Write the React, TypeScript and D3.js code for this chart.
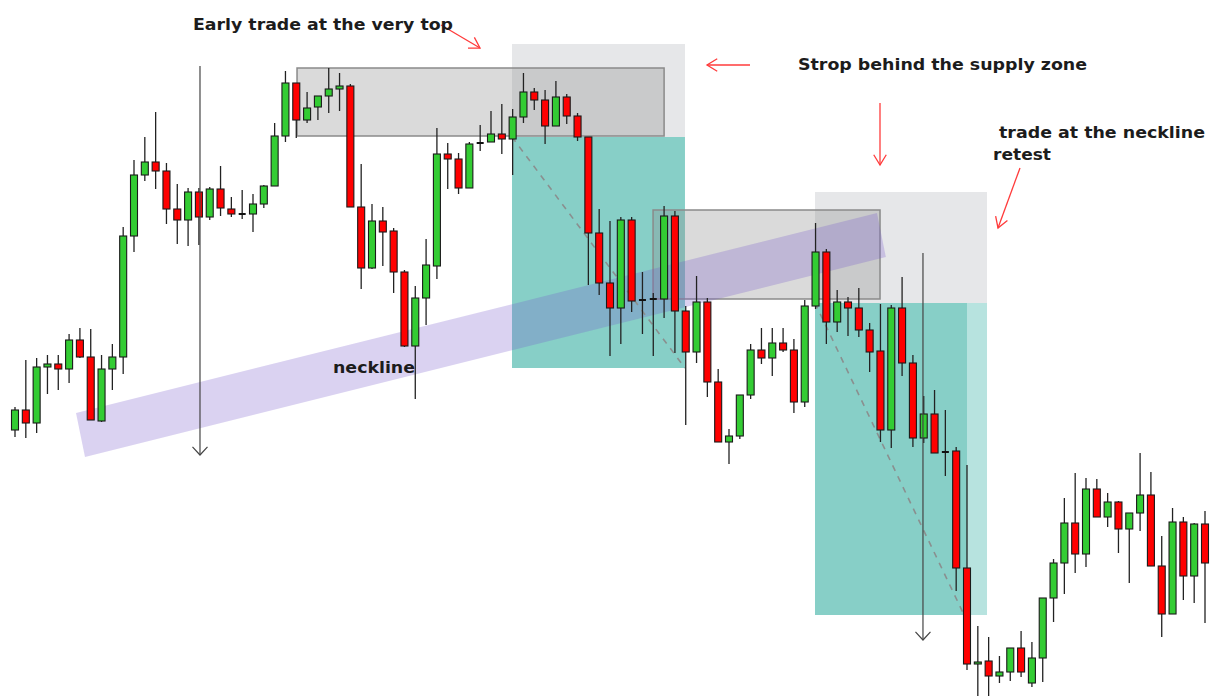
import React from "react";
import * as d3 from "d3";

// Candle values (price points), one per bar
const opens = [270,290,277,333,336,331,360,343,279,331,343,464,525,538,529,491,480,508,483,511,491,486,486,496,514,564,617,580,593,604,611,614,493,432,479,469,428,354,402,434,546,541,512,557,558,566,561,583,608,600,574,603,584,563,467,417,392,480,400,401,401,484,389,348,398,318,258,264,305,350,342,357,350,298,394,448,378,398,392,370,349,270,392,337,262,286,248,249,132,36,39,24,28,52,17,42,102,137,177,146,211,183,198,171,187,205,134,86,178,124,176];
const highs = [293,340,342,345,345,366,372,371,345,356,473,540,563,588,537,516,512,512,513,534,503,510,506,515,577,629,617,608,604,632,627,616,536,496,493,472,430,414,461,572,557,547,558,575,589,596,591,627,612,610,619,606,587,563,491,479,483,483,428,407,494,489,394,424,402,331,271,305,356,372,372,372,361,400,477,451,410,403,412,377,396,395,423,345,304,310,290,253,235,74,63,44,52,69,58,102,141,202,227,222,221,207,199,187,247,228,164,192,183,177,189];
const lows = [263,262,267,306,310,317,342,280,278,310,326,448,519,511,476,456,454,455,480,484,483,481,468,492,514,558,562,577,580,587,589,493,411,431,434,407,353,301,375,421,511,506,512,549,558,546,525,577,590,556,574,576,559,415,405,344,356,388,366,344,382,347,275,337,303,258,236,261,301,336,324,348,287,293,391,356,368,364,363,328,258,252,324,253,257,247,224,109,30,3,3,17,19,23,13,18,78,106,127,133,183,173,147,117,169,134,63,86,100,97,77];
const closes = [290,277,333,336,331,360,343,280,331,343,464,525,538,529,491,480,508,483,511,492,486,486,496,514,564,617,580,592,604,611,614,493,432,479,468,428,354,402,435,546,541,512,556,557,566,561,583,608,600,574,603,584,563,467,417,392,480,399,400,401,484,389,348,398,318,258,264,305,350,342,357,350,298,394,448,378,398,392,370,348,270,392,337,262,286,247,248,132,36,38,24,28,52,28,42,102,137,177,146,211,183,198,171,187,205,134,86,178,124,176,137];

// Annotation geometry in data units (bar index, price)
const supplyTop = { x0: 26.07, x1: 60.0, y0: 632, y1: 564 };
const riskZone1 = { x0: 45.94, x1: 61.93, y0: 656, y1: 563 };
const rewardZone1 = { x0: 45.94, x1: 61.93, y0: 563, y1: 332 };
const supplyRetest = { x0: 58.98, x1: 79.96, y0: 490, y1: 401 };
const riskZone2 = { x0: 73.95, x1: 89.85, y0: 508, y1: 397 };
const rewardZone2 = { x0: 73.95, x1: 88.0, y0: 397, y1: 85 };
const rewardZone2b = { x0: 88.0, x1: 89.85, y0: 397, y1: 85 };
const necklineBand = [[5.64, 287], [79.68, 487], [80.5, 443], [6.47, 243]];
const path1 = [[45.94, 563], [61.93, 332]];
const path2 = [[73.95, 397], [87.6, 88]];
const drop1 = [[17.1, 634], [17.1, 245]];
const drop2 = [[83.93, 447], [83.93, 60]];

const W = 1211, H = 696;

function chevron(x1: number, y1: number, x2: number, y2: number, len = 11, ang = 0.6) {
  const a = Math.atan2(y2 - y1, x2 - x1);
  const p1 = [x2 - len * Math.cos(a - ang), y2 - len * Math.sin(a - ang)];
  const p2 = [x2 - len * Math.cos(a + ang), y2 - len * Math.sin(a + ang)];
  return `M${p1[0]},${p1[1]}L${x2},${y2}L${p2[0]},${p2[1]}`;
}

export default function App() {
  const x = d3.scaleLinear().domain([0, 110]).range([15, 1205]);
  const y = d3.scaleLinear().domain([0, 700]).range([700, 0]);
  const bw = 7;

  const rect = (z: { x0: number; x1: number; y0: number; y1: number }, props: any) => (
    <rect x={x(z.x0)} y={y(z.y0)} width={x(z.x1) - x(z.x0)} height={y(z.y1) - y(z.y0)} {...props} />
  );

  const line = d3.line<number[]>().x(d => x(d[0])).y(d => y(d[1]));
  const poly = line(necklineBand) + "Z";

  const arrowRed = (x1: number, y1: number, x2: number, y2: number) => (
    <g stroke="#ff3b3b" strokeWidth={1.3} fill="none">
      <line x1={x1} y1={y1} x2={x2} y2={y2} />
      <path d={chevron(x1, y1, x2, y2, 12, 0.55)} />
    </g>
  );

  const grayArrow = (p: number[][]) => {
    const [a, b] = p;
    return (
      <g stroke="#444" strokeWidth={1.2} fill="none">
        <line x1={x(a[0])} y1={y(a[1])} x2={x(b[0])} y2={y(b[1])} />
        <path d={chevron(x(a[0]), y(a[1]), x(b[0]), y(b[1]), 11, 0.75)} />
      </g>
    );
  };

  const textStyle = { fontFamily: "'DejaVu Sans', Verdana, sans-serif", fontWeight: 700, fontSize: 16, fill: "#1c1c1c" } as any;

  return (
    <svg width={W} height={H} style={{ position: "absolute", left: 0, top: 0, background: "#fff" }}>
      {rect(riskZone1, { fill: "#e6e7e9" })}
      {rect(rewardZone1, { fill: "#87cfc7" })}
      {rect(riskZone2, { fill: "#e6e7e9" })}
      {rect(rewardZone2, { fill: "#87cfc7" })}
      {rect(rewardZone2b, { fill: "#b7e3df" })}
      {rect(supplyTop, { fill: "rgba(140,140,140,0.32)", stroke: "#8a8a8a", strokeWidth: 1.5 })}
      {rect(supplyRetest, { fill: "rgba(140,140,140,0.32)", stroke: "#8a8a8a", strokeWidth: 1.5 })}
      <path d={poly} fill="rgba(120,90,205,0.27)" />
      <path d={line(path1) || ""} stroke="#8a8f8f" strokeWidth={1.6} strokeDasharray="6,6" fill="none" />
      <path d={line(path2) || ""} stroke="#8a8f8f" strokeWidth={1.6} strokeDasharray="6,6" fill="none" />

      {opens.map((o, i) => {
        const c = closes[i];
        const up = c > o;
        const doji = Math.abs(c - o) < 1;
        const top = y(Math.max(o, c));
        const h = Math.max(1.5, Math.abs(y(o) - y(c)));
        const cx = x(i);
        return (
          <g key={i}>
            <line x1={cx} x2={cx} y1={y(highs[i])} y2={y(lows[i])} stroke="#222" strokeWidth={1.3} />
            {doji ? (
              <rect x={cx - bw / 2} y={top - 1} width={bw} height={2} fill="#111" />
            ) : (
              <rect x={cx - bw / 2} y={top} width={bw} height={h} fill={up ? "#33cc33" : "#ff0000"} stroke="#1a1a1a" strokeWidth={1.1} />
            )}
          </g>
        );
      })}

      {grayArrow(drop1)}
      {grayArrow(drop2)}

      {arrowRed(441, 25, 480, 48)}
      {arrowRed(750, 65, 707, 65)}
      {arrowRed(880, 103, 880, 165)}
      {arrowRed(1020, 168, 998, 228)}

      <text x={193} y={30} textLength={260} lengthAdjust="spacingAndGlyphs" style={textStyle}>Early trade at the very top</text>
      <text x={798} y={70} textLength={289} lengthAdjust="spacingAndGlyphs" style={textStyle}>Strop behind the supply zone</text>
      <text x={999} y={138} textLength={206} lengthAdjust="spacingAndGlyphs" style={textStyle}>trade at the neckline</text>
      <text x={993} y={160} textLength={58} lengthAdjust="spacingAndGlyphs" style={textStyle}>retest</text>
      <text x={333} y={373} textLength={82} lengthAdjust="spacingAndGlyphs" style={textStyle}>neckline</text>
    </svg>
  );
}
